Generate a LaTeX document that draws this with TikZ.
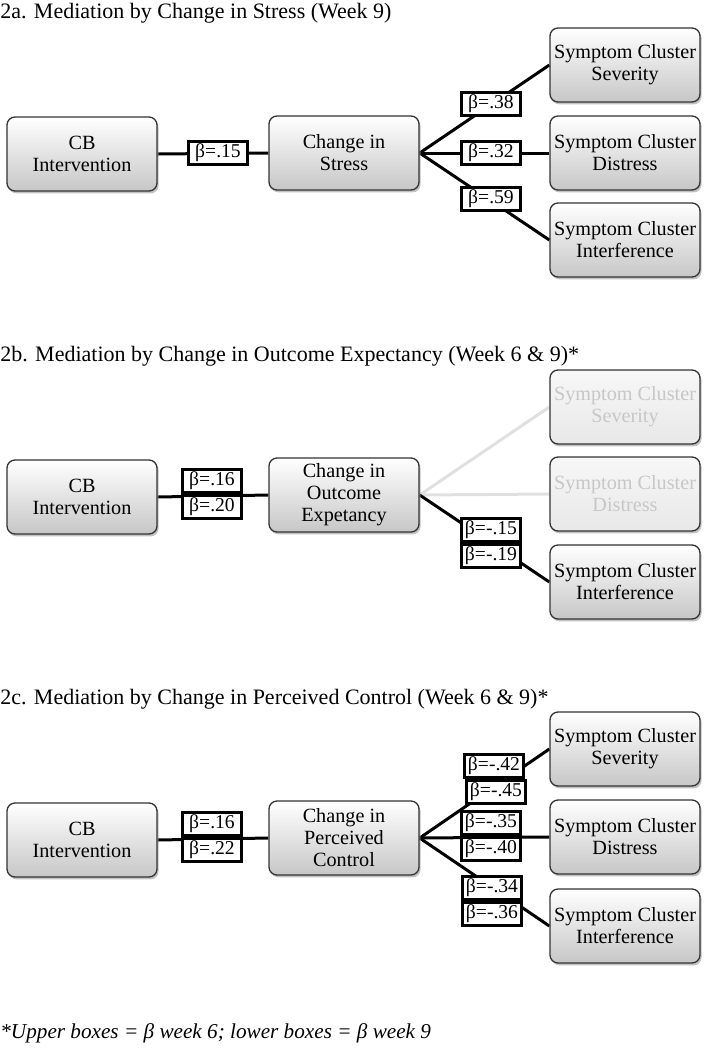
\documentclass[tikz,border=0pt]{standalone}
\usepackage{fontspec}
\setmainfont{Liberation Serif}
\usetikzlibrary{shadows}
\usetikzlibrary{backgrounds}

\tikzset{
  var/.style={draw=black!80, line width=0.65pt, rounded corners=4pt,
    top color=white, bottom color=black!22, align=center,
    minimum width=75pt, minimum height=37pt, inner sep=1pt,
    font=\fontsize{10.1}{11}\selectfont,
    drop shadow={shadow xshift=0.8pt, shadow yshift=-1.2pt, fill=black!40, opacity=0.6}},
  faded/.style={top color=black!3, bottom color=black!9, text=black!22},
  coef/.style={draw, line width=1.5pt, fill=white, minimum width=29.5pt,
    minimum height=11.5pt, inner xsep=1pt, inner ysep=0pt,
    font=\fontsize{9.8}{10.5}\selectfont},
  link/.style={line width=1.5pt},
  fadedlink/.style={line width=1.5pt, black!12},
  heading/.style={anchor=west, inner sep=0pt, font=\fontsize{11}{12}\selectfont},
}

\begin{document}
\begin{tikzpicture}[x=0.5pt, y=-0.5pt]
\useasboundingbox (0,0) rectangle (708,1050);

% 2a
\node[heading] (ta) at (0,13) {2a. Mediation by Change in Stress (Week 9)};
\node[var] (cbA) at (82,154) {CB\\Intervention};
\node[var] (medA) at (344,153) {Change in\\Stress};
\node[var] (sevA) at (625,65) {Symptom Cluster\\Severity};
\node[var] (disA) at (625,153) {Symptom Cluster\\Distress};
\node[var] (intA) at (625,240) {Symptom Cluster\\Interference};

\begin{scope}[on background layer]
\draw[link] (cbA.east) -- (medA.west);
\draw[link] (medA.east) -- (sevA.west);
\draw[link] (medA.east) -- (disA.west);
\draw[link] (medA.east) -- (intA.west);
\end{scope}

\node[coef] (bA1) at (218,153) {β=.15};
\node[coef] (bA2) at (491,104) {β=.38};
\node[coef] (bA3) at (491,153) {β=.32};
\node[coef] (bA4) at (491,199) {β=.59};

% 2b
\node[heading] (tb) at (0,356) {2b. Mediation by Change in Outcome Expectancy (Week 6 \& 9)*};
\node[var] (cbB) at (82,497) {CB\\Intervention};
\node[var] (medB) at (344,495) {Change in\\Outcome\\Expetancy};
\node[var, faded] (sevB) at (625,407) {Symptom Cluster\\Severity};
\node[var, faded] (disB) at (625,494) {Symptom Cluster\\Distress};
\node[var] (intB) at (625,582) {Symptom Cluster\\Interference};

\begin{scope}[on background layer]
\draw[link] (cbB.east) -- (medB.west);
\draw[fadedlink] (medB.east) -- (sevB.west);
\draw[fadedlink] (medB.east) -- (disB.west);
\draw[link] (medB.east) -- (intB.west);
\end{scope}

\node[coef] (bB1) at (212,481) {β=.16};
\node[coef] (bB2) at (212,507) {β=.20};
\node[coef] (bB3) at (491,530) {β=-.15};
\node[coef] (bB4) at (491,556) {β=-.19};

% 2c
\node[heading] (tc) at (0,699) {2c. Mediation by Change in Perceived Control (Week 6 \& 9)*};
\node[var] (cbC) at (82,840) {CB\\Intervention};
\node[var] (medC) at (344,838) {Change in\\Perceived\\Control};
\node[var] (sevC) at (625,749) {Symptom Cluster\\Severity};
\node[var] (disC) at (625,837) {Symptom Cluster\\Distress};
\node[var] (intC) at (625,926) {Symptom Cluster\\Interference};

\begin{scope}[on background layer]
\draw[link] (cbC.east) -- (medC.west);
\draw[link] (medC.east) -- (sevC.west);
\draw[link] (medC.east) -- (disC.west);
\draw[link] (medC.east) -- (intC.west);
\end{scope}

\node[coef] (bC1) at (212,824) {β=.16};
\node[coef] (bC2) at (212,850) {β=.22};
\node[coef] (bC3) at (494,766) {β=-.42};
\node[coef] (bC4) at (496,792) {β=-.45};
\node[coef] (bC5) at (491,823) {β=-.35};
\node[coef] (bC6) at (491,849) {β=-.40};
\node[coef] (bC7) at (492,888) {β=-.34};
\node[coef] (bC8) at (492,914) {β=-.36};

\node[heading, font=\fontsize{10.6}{12}\selectfont\itshape] (note) at (0,1033)
  {*Upper boxes = β week 6; lower boxes = β week 9};
\end{tikzpicture}
\end{document}
